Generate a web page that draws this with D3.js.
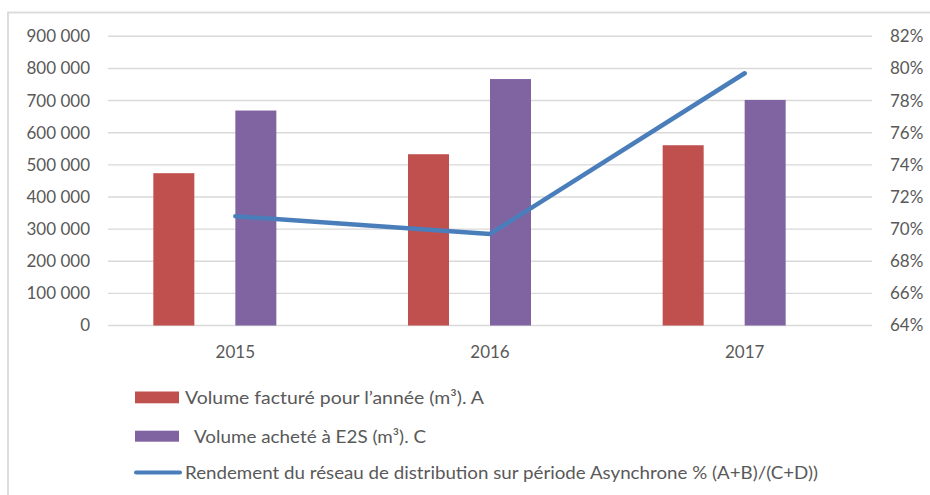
<!DOCTYPE html>
<html><head><meta charset="utf-8">
<script src="https://cdn.jsdelivr.net/npm/d3@7"></script>
<style>body{margin:0;background:#fff}svg{display:block}text{font-family:Lato,"Open Sans",sans-serif;fill:#595959}</style>
</head><body>
<script>
const years = ["2015", "2016", "2017"];
const seriesKeys = ["A", "B", "C", "D"];
const volumeFacture = [474000, 533000, 561000];
const volumeAchete = [669000, 767000, 702000];
const rendement = [0.708, 0.697, 0.797];
const leftTicks = [0, 100000, 200000, 300000, 400000, 500000, 600000, 700000, 800000, 900000];
const rightTicks = [0.64, 0.66, 0.68, 0.70, 0.72, 0.74, 0.76, 0.78, 0.80, 0.82];
const legendLabels = ["Volume facturé pour l\u2019année (m³). A", "Volume acheté à E2S (m³). C", "Rendement du réseau de distribution sur période Asynchrone % (A+B)/(C+D))"];

const W = 930, H = 495;
const colRed = "#C0504D", colPurple = "#8064A2", colBlue = "#4A7EBB", grid = "#d9d9d9";
const svg = d3.select("body").append("svg").attr("width", W).attr("height", H);
svg.append("rect").attr("width", W).attr("height", H).attr("fill", "#fff");
svg.append("rect").attr("x", 8).attr("y", 12.5).attr("width", W).attr("height", H)
  .attr("fill", "none").attr("stroke", grid).attr("stroke-width", 1.8);

const L = 108, R = 872, T = 36.3, B = 325.5;
const x = d3.scaleBand().domain(years).range([L, R]);
const bw = x.bandwidth();
const groupW = bw * 0.644;
const xs = d3.scaleBand().domain(seriesKeys).range([(bw - groupW) / 2, (bw + groupW) / 2]);
const y = d3.scaleLinear().domain([0, 900000]).range([B, T]);
const y2 = d3.scaleLinear().domain([0.64, 0.82]).range([B, T]);

const loc = d3.formatLocale({decimal: ",", thousands: " ", grouping: [3], currency: ["", " €"]});
const fmtL = loc.format(",");
const fmtR = d3.format(".0%");

// gridlines
svg.append("g").selectAll("line").data(leftTicks).join("line")
  .attr("x1", L).attr("x2", R).attr("y1", d => y(d)).attr("y2", d => y(d))
  .attr("stroke", grid).attr("stroke-width", 1.4);

// left axis
const gl = svg.append("g").attr("transform", `translate(${90},0)`)
  .call(d3.axisLeft(y).tickValues(leftTicks).tickFormat(fmtL).tickSize(0).tickPadding(0));
gl.select(".domain").remove();
gl.selectAll("text").attr("font-size", 17).attr("fill", "#595959").attr("font-family", "Lato");

// right axis
const gr = svg.append("g").attr("transform", `translate(${890},0)`)
  .call(d3.axisRight(y2).tickValues(rightTicks).tickFormat(fmtR).tickSize(0).tickPadding(0));
gr.select(".domain").remove();
gr.selectAll("text").attr("font-size", 17).attr("fill", "#595959").attr("font-family", "Lato");

// x axis labels
const gx = svg.append("g").attr("transform", `translate(0,${B + 27})`)
  .call(d3.axisBottom(x).tickSize(0).tickPadding(0));
gx.select(".domain").remove();
gx.selectAll("text").attr("font-size", 17).attr("fill", "#595959").attr("font-family", "Lato").attr("dy", "0.35em");

// bars
const bars = [{key: "A", vals: volumeFacture, color: colRed}, {key: "C", vals: volumeAchete, color: colPurple}];
bars.forEach(s => {
  svg.append("g").selectAll("rect").data(years).join("rect")
    .attr("x", (d) => x(d) + xs(s.key))
    .attr("width", xs.bandwidth())
    .attr("y", (d, i) => y(s.vals[i]))
    .attr("height", (d, i) => B - y(s.vals[i]))
    .attr("fill", s.color);
});

// line
const line = d3.line().x((d, i) => x(years[i]) + bw / 2).y(d => y2(d));
svg.append("path").datum(rendement).attr("d", line).attr("fill", "none")
  .attr("stroke", colBlue).attr("stroke-width", 4.5).attr("stroke-linecap", "round").attr("stroke-linejoin", "round");

// legend
const lg = svg.append("g");
lg.append("rect").attr("x", 135).attr("y", 391.5).attr("width", 44).attr("height", 11.8).attr("fill", colRed);
lg.append("rect").attr("x", 135).attr("y", 430.7).attr("width", 44).attr("height", 11).attr("fill", colPurple);
lg.append("line").attr("x1", 136).attr("x2", 180).attr("y1", 472.5).attr("y2", 472.5)
  .attr("stroke", colBlue).attr("stroke-width", 4).attr("stroke-linecap", "round");
const lt = [{x: 185, y: 397.5, w: 299}, {x: 194, y: 436.5, w: 232}, {x: 185, y: 472.5, w: 633}];
lt.forEach((p, i) => {
  lg.append("text").attr("x", p.x).attr("y", p.y).attr("dy", "0.35em")
    .attr("font-size", 17.5).attr("textLength", p.w).attr("lengthAdjust", "spacingAndGlyphs")
    .text(legendLabels[i]);
});
</script>
</body></html>
